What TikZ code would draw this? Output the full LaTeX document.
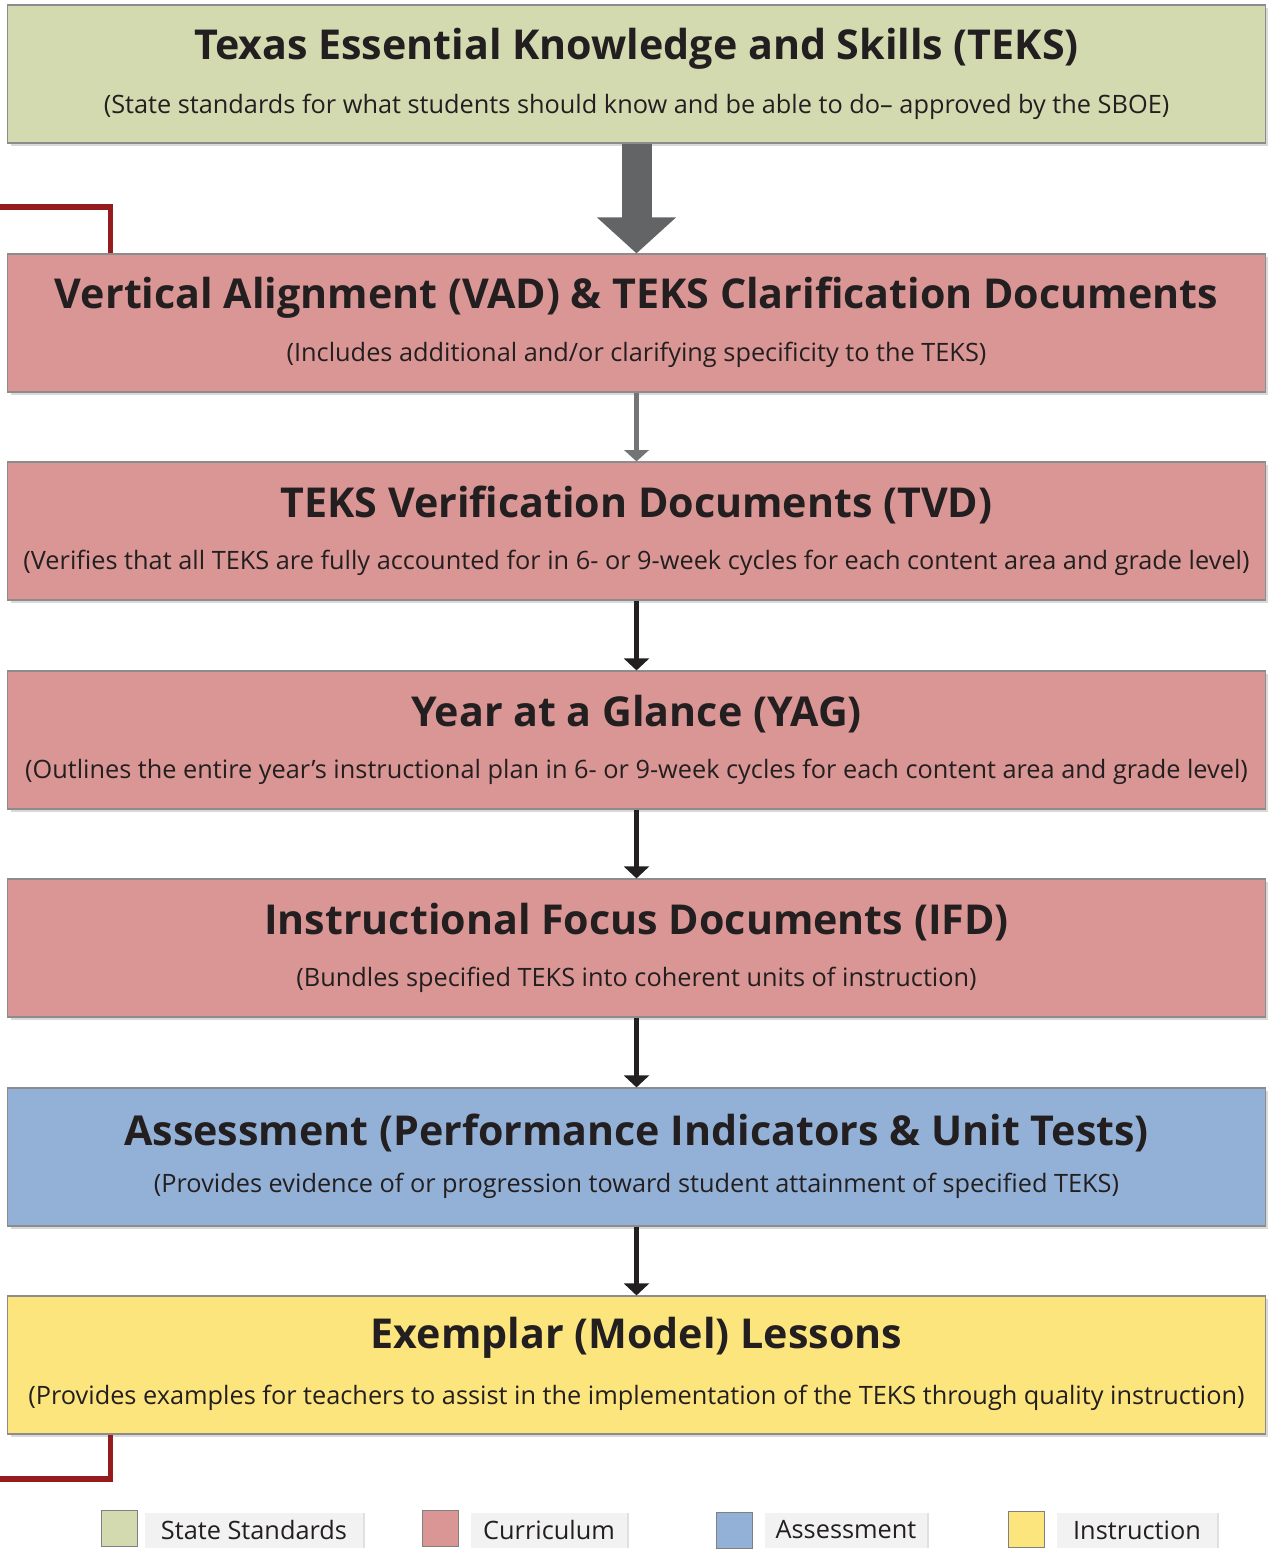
\documentclass[tikz,border=0pt]{standalone}
\usepackage{fontspec}
\setmainfont{Open Sans}
\usetikzlibrary{arrows.meta,calc,shadows}

\definecolor{stdgreen}{HTML}{D3DAB0}
\definecolor{curred}{HTML}{D99694}
\definecolor{asblue}{HTML}{93B1D7}
\definecolor{insyellow}{HTML}{FDE57D}
\definecolor{arrowgray}{HTML}{636466}
\definecolor{loopred}{HTML}{951B1E}
\definecolor{legendgray}{HTML}{F2F2F2}
\definecolor{inkdark}{HTML}{231F20}

\begin{document}
\begin{tikzpicture}[x=0.025cm,y=-0.025cm,
    docbox/.style={draw=black!45, line width=0.8pt, minimum width=31.425cm,
      minimum height=3.45cm, inner sep=0pt,
      drop shadow={shadow xshift=2pt, shadow yshift=-2pt, fill=black!15, opacity=1}},
    ttl/.style={font=\bfseries\fontsize{29.3}{34}\selectfont, text=inkdark, inner sep=0pt},
    sub/.style={font=\fontsize{18}{21}\selectfont, text=inkdark, inner sep=0pt},
    bigarrow/.style={draw=arrowgray, line width=0.75cm,
      -{Triangle[width=1.925cm,length=0.9cm]}},
    grayarrow/.style={draw=arrowgray!90, line width=0.12cm,
      -{Triangle[width=0.6cm,length=0.28cm]}},
    darkarrow/.style={draw=inkdark, line width=0.12cm,
      -{Triangle[width=0.62cm,length=0.3cm]}},
    loopline/.style={draw=loopred, line width=0.13cm},
    legsq/.style={draw=black!50, line width=0.6pt, minimum size=0.9cm, inner sep=0pt},
    legtxt/.style={fill=legendgray, minimum height=0.875cm, inner sep=0pt,
      font=\fontsize{18}{21}\selectfont, text=inkdark,
      drop shadow={shadow xshift=1.5pt, shadow yshift=0pt, fill=black!12, opacity=1}}]

    \useasboundingbox (0,0) rectangle (1269,1549);

    % document boxes
    \node [docbox, fill=stdgreen] (teks) at (636.5,74) {};
    \node [docbox, fill=curred] (vad) at (636.5,323) {};
    \node [docbox, fill=curred] (tvd) at (636.5,531) {};
    \node [docbox, fill=curred] (yag) at (636.5,740) {};
    \node [docbox, fill=curred] (ifd) at (636.5,948) {};
    \node [docbox, fill=asblue] (asm) at (636.5,1157) {};
    \node [docbox, fill=insyellow] (exm) at (636.5,1365) {};

    \node [ttl] (teksT) at ([yshift=-1.12cm]teks.north) {Texas Essential Knowledge and Skills (TEKS)};
    \node [sub] (teksS) at ([yshift=-2.55cm]teks.north) {(State standards for what students should know and be able to do-- approved by the SBOE)};
    \node [ttl] (vadT) at ([yshift=-1.1cm]vad.north) {Vertical Alignment (VAD) \& TEKS Clarification Documents};
    \node [sub] (vadS) at ([yshift=-2.53cm]vad.north) {(Includes additional and/or clarifying specificity to the TEKS)};
    \node [ttl] (tvdT) at ([yshift=-1.1cm]tvd.north) {TEKS Verification Documents (TVD)};
    \node [sub] (tvdS) at ([yshift=-2.53cm]tvd.north) {(Verifies that all TEKS are fully accounted for in 6- or 9-week cycles for each content area and grade level)};
    \node [ttl] (yagT) at ([yshift=-1.1cm]yag.north) {Year at a Glance (YAG)};
    \node [sub] (yagS) at ([yshift=-2.53cm]yag.north) {(Outlines the entire year’s instructional plan in 6- or 9-week cycles for each content area and grade level)};
    \node [ttl] (ifdT) at ([yshift=-1.1cm]ifd.north) {Instructional Focus Documents (IFD)};
    \node [sub] (ifdS) at ([yshift=-2.53cm]ifd.north) {(Bundles specified TEKS into coherent units of instruction)};
    \node [ttl] (asmT) at ([yshift=-1.15cm]asm.north) {Assessment (Performance Indicators \& Unit Tests)};
    \node [sub] (asmS) at ([yshift=-2.47cm]asm.north) {(Provides evidence of or progression toward student attainment of specified TEKS)};
    \node [ttl] (exmT) at ([yshift=-1.05cm]exm.north) {Exemplar (Model) Lessons};
    \node [sub] (exmS) at ([yshift=-2.55cm]exm.north) {(Provides examples for teachers to assist in the implementation of the TEKS through quality instruction)};

    % arrows
    \draw [bigarrow] (teks) -- (vad);
    \draw [grayarrow] (vad) -- (tvd);
    \draw [darkarrow] (tvd) -- (yag);
    \draw [darkarrow] (yag) -- (ifd);
    \draw [darkarrow] (ifd) -- (asm);
    \draw [darkarrow] (asm) -- (exm);

    % feedback loop
    \coordinate (loopT) at (0,207);
    \coordinate (loopB) at (0,1479);
    \draw [loopline] (loopT) -| ([xshift=2.575cm]vad.north west);
    \draw [loopline] ([xshift=2.575cm]exm.south west) |- (loopB);

    % legend
    \node [legsq, fill=stdgreen] (kStd) at (119,1528) {};
    \node [legtxt, minimum width=5.45cm] (lStd) at (254,1530) {State Standards};
    \node [legsq, fill=curred] (kCur) at (440,1528) {};
    \node [legtxt, minimum width=3.9cm] (lCur) at (549,1530) {Curriculum};
    \node [legsq, fill=asblue] (kAsm) at (734.5,1530) {};
    \node [legtxt, minimum width=4.05cm] (lAsm) at (846,1530) {Assessment};
    \node [legsq, fill=insyellow] (kIns) at (1026,1529.5) {};
    \node [legtxt, minimum width=4cm] (lIns) at (1137,1530) {Instruction};
\end{tikzpicture}
\end{document}
